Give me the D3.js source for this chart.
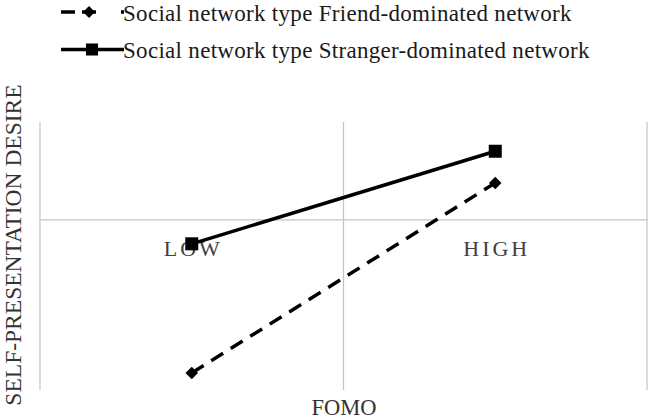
<!DOCTYPE html>
<html>
<head>
<meta charset="utf-8">
<script src="https://cdn.jsdelivr.net/npm/d3@7"></script>
<style>
  body { margin: 0; background: #fff; }
  svg { display: block; }
  svg text { font-family: "Liberation Serif", Tinos, "Times New Roman", "DejaVu Serif", serif; }
</style>
</head>
<body>
<div id="chart"></div>
<script>
// values (FOMO x network type)
const categories = ["LOW", "HIGH"];
const friendValues = [-0.63, 0.15];
const strangerValues = [-0.10, 0.28];
const seriesNames = [
  "Social network type Friend-dominated network",
  "Social network type Stranger-dominated network"
];

const WIDTH = 650, HEIGHT = 418;
const GRID_COLOR = "#c4c4c4";
const LINE_WIDTH = 3.5;
const SERIF = "Liberation Serif, Tinos, Times New Roman, DejaVu Serif, serif";

var svg = d3.select("#chart")
    .append("svg")
    .attr("width", WIDTH)
    .attr("height", HEIGHT)
    .attr("font-family", SERIF);

var x = d3.scaleBand().domain(categories).range([40, 647]).padding(0);
var y = d3.scaleLinear().domain([-0.7, 0.4]).range([390, 122]);

// vertical gridlines on the category boundaries
var bounds = categories.map(c => x(c)).concat([x.range()[1]]);
svg.append("g")
    .selectAll("line")
    .data(bounds)
    .join("line")
    .attr("x1", d => d).attr("x2", d => d)
    .attr("y1", y.range()[1]).attr("y2", y.range()[0])
    .attr("stroke", GRID_COLOR)
    .attr("stroke-width", 1.2);

// category axis crossing at zero
var xAxis = svg.append("g")
    .attr("transform", "translate(0," + y(0) + ")")
    .call(d3.axisBottom(x).tickSize(0).tickPadding(21))
    .attr("font-family", SERIF);
xAxis.select(".domain").attr("stroke", GRID_COLOR).attr("stroke-width", 1.2);
xAxis.selectAll("text")
    .attr("font-family", SERIF)
    .attr("font-size", 22)
    .attr("letter-spacing", 3)
    .attr("dx", 1.5)
    .attr("fill", "#404040");

var line = d3.line()
    .x((d, i) => x(categories[i]) + x.bandwidth() / 2)
    .y(d => y(d));

// friend-dominated: dashed with diamonds
svg.append("path")
    .datum(friendValues)
    .attr("d", line)
    .attr("fill", "none")
    .attr("stroke", "#000")
    .attr("stroke-width", LINE_WIDTH)
    .attr("stroke-dasharray", "14,9");

var diamond = d3.symbol().type(d3.symbolDiamond2).size(100);
svg.append("g")
    .selectAll("path")
    .data(friendValues)
    .join("path")
    .attr("d", diamond)
    .attr("transform", (d, i) => "translate(" + (x(categories[i]) + x.bandwidth() / 2) + "," + y(d) + ")")
    .attr("fill", "#000");

// stranger-dominated: solid with squares
svg.append("path")
    .datum(strangerValues)
    .attr("d", line)
    .attr("fill", "none")
    .attr("stroke", "#000")
    .attr("stroke-width", LINE_WIDTH);

svg.append("g")
    .selectAll("rect")
    .data(strangerValues)
    .join("rect")
    .attr("x", (d, i) => x(categories[i]) + x.bandwidth() / 2 - 6.5)
    .attr("y", d => y(d) - 6.5)
    .attr("width", 13).attr("height", 13)
    .attr("fill", "#000");

// legend
var legend = svg.append("g");
var rows = legend.selectAll("g")
    .data(seriesNames)
    .join("g")
    .attr("transform", (d, i) => "translate(0," + (12 + i * 37.5) + ")");

rows.append("line")
    .attr("x1", 61).attr("x2", 124)
    .attr("stroke", "#000")
    .attr("stroke-width", LINE_WIDTH)
    .attr("stroke-dasharray", (d, i) => i === 0 ? "14,7,14,25,3,100" : null);

rows.filter((d, i) => i === 0).append("path")
    .attr("d", d3.symbol().type(d3.symbolDiamond2).size(90))
    .attr("transform", "translate(89,0)");

rows.filter((d, i) => i === 1).append("rect")
    .attr("x", 86).attr("y", -6).attr("width", 12).attr("height", 12);

rows.append("text")
    .attr("x", 123)
    .attr("y", 8.5)
    .attr("font-family", SERIF)
    .attr("font-size", 23)
    .attr("letter-spacing", 0.3)
    .attr("fill", "#1a1a1a")
    .text(d => d);

// axis titles
svg.append("text")
    .attr("transform", "translate(21,245) rotate(-90)")
    .attr("text-anchor", "middle")
    .attr("font-family", SERIF)
    .attr("font-size", 23.5)
    .attr("fill", "#333")
    .text("SELF-PRESENTATION DESIRE");

svg.append("text")
    .attr("x", 344)
    .attr("y", 414.5)
    .attr("text-anchor", "middle")
    .attr("font-family", SERIF)
    .attr("font-size", 22.5)
    .attr("fill", "#333")
    .text("FOMO");
</script>
</body>
</html>
